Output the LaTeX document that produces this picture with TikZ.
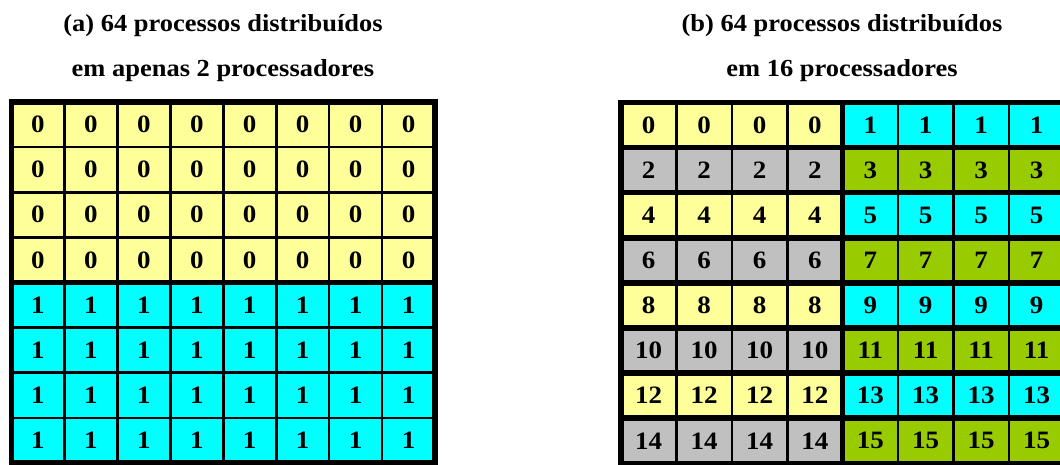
\documentclass[tikz,border=0pt]{standalone}
\usepackage{fontspec}
\setmainfont{Liberation Serif}
\usepackage{graphicx}
\usepackage{tikz}
\definecolor{amarelo}{HTML}{FFFF99}
\definecolor{ciano}{HTML}{00FFFF}
\definecolor{cinza}{HTML}{C0C0C0}
\definecolor{verde}{HTML}{99CC00}
\newcommand{\larg}[1]{\scalebox{1.08}[1]{#1}}

\begin{document}
\begin{tikzpicture}[x=1pt,y=-1pt]
  \tikzset{titulo/.style={font=\bfseries\fontsize{24.5}{29}\selectfont,inner sep=0,anchor=base}}
  \tikzset{num/.style={font=\bfseries\fontsize{25}{30}\selectfont,inner sep=0}}
  \tikzset{fina/.style={line width=2.6pt}}
  \tikzset{grossa/.style={line width=5.5pt}}
  \useasboundingbox (0,0) rectangle (1060,465);
  \node[titulo](ta1) at (223,32) {\larg{(a) 64 processos distribuídos}};
  \node[titulo](ta2) at (223,77) {\larg{em apenas 2 processadores}};
  \node[titulo](tb1) at (842,32) {\larg{(b) 64 processos distribuídos}};
  \node[titulo](tb2) at (842,77) {\larg{em 16 processadores}};
  % (a) 2 processadores
  \begin{scope}[shift={(11.5,102)},x=52.94pt,y=-45.12pt]
    \fill[amarelo] (0,0) rectangle (8,4);
    \fill[ciano] (0,4) rectangle (8,8);
    \foreach \i in {1,...,7} {
      \draw[fina] (\i,0) -- (\i,8);
      \draw[fina] (0,\i) -- (8,\i);
    }
    \draw[grossa] (0,4) -- (8,4);
    \draw[grossa] (0,0) rectangle (8,8);
    \foreach \l in {0,...,7}
      \foreach \c in {0,...,7} {
        \pgfmathtruncatemacro{\v}{\l>3}
        \node[num](a\l\c) at (\c+0.5,\l+0.5) {\larg{\v}};
      }
  \end{scope}
  % (b) 16 processadores
  \begin{scope}[shift={(621,102.5)},x=55.4pt,y=-45.1pt]
    \foreach \l in {0,...,7} {
      \ifodd\l{} \def\corA{cinza}\def\corB{verde}\else \def\corA{amarelo}\def\corB{ciano}\fi
      \fill[\corA] (0,\l) rectangle (4,\l+1);
      \fill[\corB] (4,\l) rectangle (8,\l+1);
    }
    \foreach \i in {1,2,3,5,6,7}
      \draw[fina] (\i,0) -- (\i,8);
    \foreach \i in {1,...,7}
      \draw[grossa] (0,\i) -- (8,\i);
    \draw[grossa] (4,0) -- (4,8);
    \draw[grossa] (0,0) rectangle (8,8);
    \foreach \l in {0,...,7}
      \foreach \c in {0,...,7} {
        \pgfmathtruncatemacro{\v}{2*\l+(\c>3)}
        \node[num](b\l\c) at (\c+0.5,\l+0.5) {\larg{\v}};
      }
  \end{scope}
\end{tikzpicture}
\end{document}
